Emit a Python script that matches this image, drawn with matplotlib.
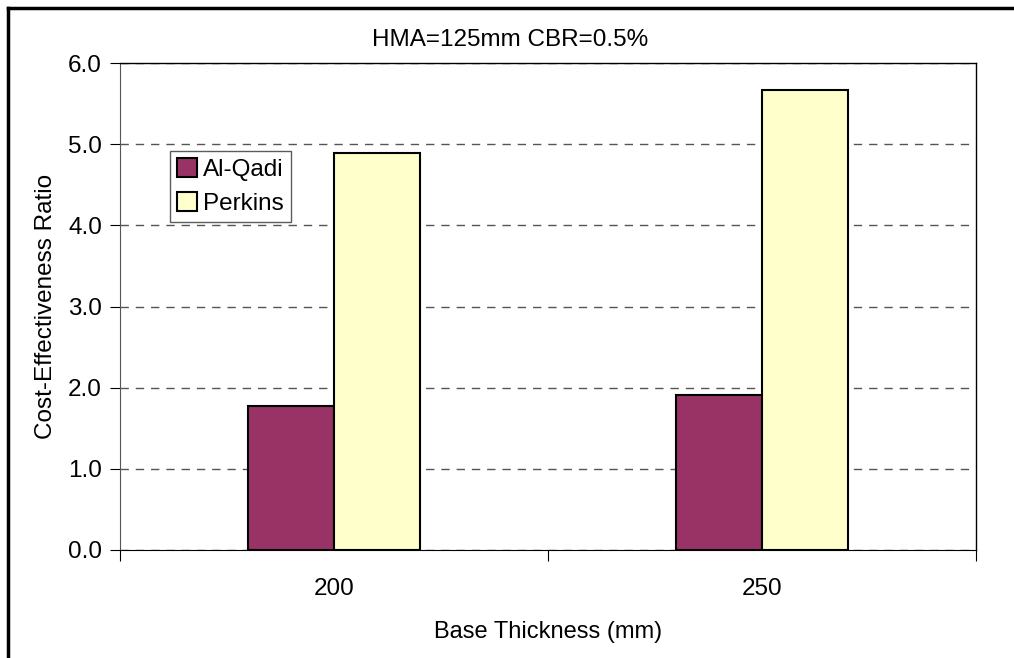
import numpy as np
import matplotlib.pyplot as plt
from matplotlib.lines import Line2D

plt.rcParams['font.family'] = ['Liberation Sans', 'DejaVu Sans']

categories = ['200', '250']
series_names = ['Al-Qadi', 'Perkins']
al_qadi = [1.77, 1.91]
perkins = [4.89, 5.67]
colors = ['#993366', '#FFFFCC']

fs = 17.5

fig = plt.figure(figsize=(10.14, 6.58), dpi=100)
ax = fig.add_axes([120/1014, 1-550/658, 856/1014, 487/658])

x = np.arange(len(categories))
w = 0.2
ax.bar(x - w/2, al_qadi, w, color=colors[0], edgecolor='black', linewidth=1.5, label=series_names[0], zorder=3)
ax.bar(x + w/2, perkins, w, color=colors[1], edgecolor='black', linewidth=1.5, label=series_names[1], zorder=3)

ax.set_xlim(-0.5, 1.5)
ax.set_ylim(0, 6)
ax.set_yticks(np.arange(0, 6.1, 1.0))
ax.set_yticklabels(['%.1f' % v for v in np.arange(0, 6.1, 1.0)])
ax.set_xticks([-0.5, 0.5, 1.5])
ax.set_xticklabels([])
ax.set_xticks(x, minor=True)
ax.set_xticklabels(categories, minor=True)
ax.tick_params(axis='x', which='major', length=8, direction='out', color='black')
ax.tick_params(axis='x', which='minor', length=0, pad=20, labelsize=fs)
ax.tick_params(axis='y', length=7, direction='out', labelsize=fs, pad=6)

ax.yaxis.grid(True, linestyle=(0, (6, 5)), color='#555555', linewidth=1)
ax.set_axisbelow(True)
for s in ['top', 'right']:
    ax.spines[s].set_color('black')
    ax.spines[s].set_linewidth(1)
ax.spines['left'].set_color('#555555')
ax.spines['bottom'].set_color('black')

ax.set_xlabel('Base Thickness (mm)', fontsize=17, labelpad=15)
ax.set_ylabel('Cost-Effectiveness Ratio', fontsize=fs, labelpad=8)
fig.text(510/1014, 1-40/658, 'HMA=125mm CBR=0.5%', ha='center', va='center', fontsize=fs)

leg = ax.legend(loc='upper left', bbox_to_anchor=(50/856, 1-88/487), frameon=True, fancybox=False,
                edgecolor='#333333', fontsize=fs, handlelength=0.8, handleheight=0.8,
                handletextpad=0.25, borderpad=0.3, labelspacing=0.45, borderaxespad=0)
leg.get_frame().set_linewidth(1.0)

# outer chart border (left and top visible)
fig.add_artist(Line2D([8/1014, 8/1014], [0, 1-8/658], color='black', linewidth=2.5, transform=fig.transFigure))
fig.add_artist(Line2D([8/1014, 1], [1-8/658, 1-8/658], color='black', linewidth=2.5, transform=fig.transFigure))

fig.savefig('out.png', dpi=100)
